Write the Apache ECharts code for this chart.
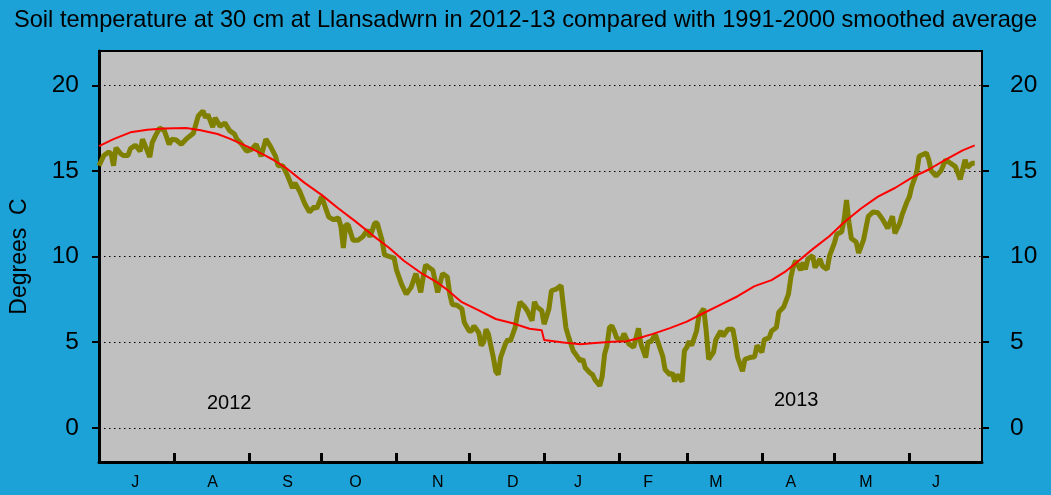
<!DOCTYPE html>
<html>
<head>
<meta charset="utf-8">
<script src="https://cdn.jsdelivr.net/npm/echarts@6/dist/echarts.min.js"></script>
<style>
  html, body { margin: 0; padding: 0; background: #1ca2d6; }
  #chart { width: 1051px; height: 495px; }
</style>
</head>
<body>
<div id="chart"></div>
<script>
// days counted from 1 July 2012
var monthStarts = [0, 31, 62, 92, 123, 153, 184, 215, 243, 274, 304, 335, 365];
var monthLabels = ['J', 'A', 'S', 'O', 'N', 'D', 'J', 'F', 'M', 'A', 'M', 'J'];
// where the original puts each month letter (day number)
var monthLabelDays = [15, 47, 78, 106, 140, 171, 198, 227, 255, 286, 317, 346];
var yTicks = [0, 5, 10, 15, 20];

// 2012-13 daily soil temperature at 30 cm
var obsDays = [0, 2, 4, 5, 6, 7, 9, 10, 12, 13, 15, 17, 18, 21, 22, 23, 25, 27, 29, 30,
  32, 34, 36, 39, 41, 43, 44, 45, 47, 48, 50, 52, 54, 56, 57, 59, 61, 63, 65, 67,
  69, 71, 73, 74, 76, 78, 80, 81, 83, 85, 87, 89, 90, 92, 93, 95, 97, 99, 100, 101,
  102, 103, 105, 107, 109, 111, 112, 114, 115, 117, 118, 120, 122, 123, 125, 127, 129, 131, 133, 134,
  135, 138, 140, 142, 144, 145, 146, 148, 150, 151, 153, 154, 155, 157, 158, 159, 160, 161, 163, 164,
  165, 166, 168, 169, 170, 172, 173, 174, 176, 177, 179, 180, 181, 183, 184, 186, 187, 189, 191, 192,
  193, 194, 196, 197, 199, 200, 201, 203, 204, 205, 207, 208, 209, 210, 211, 212, 213, 214, 216, 217,
  219, 221, 222, 223, 224, 226, 227, 228, 230, 232, 233, 234, 236, 237, 238, 239, 241, 242, 243, 244,
  245, 247, 248, 250, 251, 252, 254, 255, 257, 258, 260, 262, 263, 264, 266, 267, 269, 271, 272, 274,
  275, 277, 278, 280, 281, 283, 285, 286, 287, 288, 290, 291, 292, 293, 295, 296, 298, 299, 301, 302,
  304, 305, 307, 308, 309, 310, 311, 313, 314, 316, 318, 320, 322, 324, 326, 328, 329, 331, 332, 334,
  335, 336, 338, 339, 342, 343, 344, 346, 348, 350, 352, 354, 356, 358, 359, 361, 362];
var obsTemps = [15.3, 15.9, 16.1, 16.0, 15.3, 16.35, 16.0, 15.9, 15.9, 16.3, 16.5, 16.15, 16.85, 15.8, 16.65, 16.95, 17.5, 17.35, 16.55, 16.85,
  16.8, 16.55, 16.85, 17.2, 18.2, 18.5, 18.1, 18.3, 17.55, 18.1, 17.6, 17.8, 17.35, 17.15, 16.85, 16.55, 16.15, 16.25, 16.55, 15.85,
  16.85, 16.4, 15.85, 15.3, 15.3, 14.7, 14.0, 14.3, 13.8, 13.1, 12.6, 12.9, 12.8, 13.5, 13.1, 12.3, 12.15, 12.25, 11.75, 10.5,
  11.85, 11.85, 10.95, 10.95, 11.15, 11.55, 11.15, 11.95, 11.95, 10.95, 10.1, 10.0, 9.9, 9.2, 8.4, 7.8, 8.2, 9.0, 7.9, 8.8,
  9.5, 9.2, 7.9, 9.0, 8.8, 7.8, 7.2, 7.15, 6.95, 6.15, 5.65, 5.65, 5.95, 5.55, 4.8, 5.0, 5.75, 5.45, 4.1, 3.3,
  3.1, 4.1, 4.9, 5.15, 5.05, 5.85, 6.65, 7.35, 7.05, 6.85, 6.25, 7.35, 7.05, 6.85, 6.05, 6.95, 8.0, 8.1, 8.3, 7.05,
  5.85, 5.35, 4.5, 4.3, 3.9, 4.0, 3.5, 3.2, 3.1, 2.8, 2.45, 3.0, 4.3, 4.8, 5.85, 5.95, 5.65, 5.25, 5.1, 5.5,
  4.9, 4.7, 5.25, 5.8, 4.9, 4.1, 5.05, 5.0, 5.45, 4.6, 4.2, 3.4, 3.1, 3.2, 2.7, 3.1, 2.7, 4.5, 4.7, 5.05,
  4.8, 5.65, 6.55, 6.95, 5.65, 4.0, 4.4, 5.15, 5.65, 5.35, 5.75, 5.75, 5.0, 4.1, 3.3, 4.0, 4.1, 4.15, 4.8, 4.4,
  5.15, 5.25, 5.65, 5.85, 6.75, 7.05, 7.8, 8.8, 9.4, 9.75, 9.2, 9.65, 9.25, 9.85, 10.05, 9.35, 9.85, 9.45, 9.25, 10.05,
  10.8, 11.3, 11.45, 12.15, 13.3, 12.0, 11.05, 10.85, 10.2, 10.95, 12.35, 12.6, 12.55, 12.15, 11.65, 12.35, 11.35, 11.95, 12.45, 13.2,
  13.5, 14.1, 14.9, 15.85, 16.05, 15.65, 15.0, 14.7, 15.0, 15.65, 15.45, 15.25, 14.5, 15.65, 15.2, 15.45, 15.45];

// 1991-2000 smoothed average
var avgDays = [0, 6, 13, 20, 27, 36, 42, 49, 54, 61, 68, 72, 78, 85, 92, 99, 106, 113, 120, 126,
  133, 140, 144, 150, 157, 164, 171, 178, 183, 184, 192, 199, 205, 212, 218, 223, 229, 236, 243, 250,
  257, 264, 271, 278, 284, 288, 295, 302, 308, 315, 322, 329, 336, 343, 350, 357, 362];
var avgTemps = [16.45, 16.85, 17.25, 17.4, 17.47, 17.5, 17.37, 17.15, 16.88, 16.45, 15.95, 15.65, 15.1, 14.3, 13.6, 12.8, 12.05, 11.25, 10.5, 9.75,
  9.05, 8.47, 8.05, 7.33, 6.85, 6.35, 6.1, 5.78, 5.7, 5.12, 4.98, 4.88, 4.95, 5.02, 5.05, 5.23, 5.48, 5.82, 6.2, 6.7,
  7.19, 7.68, 8.27, 8.62, 9.15, 9.6, 10.43, 11.2, 12.0, 12.8, 13.5, 14.0, 14.6, 15.08, 15.66, 16.2, 16.49];

function zip(xs, ys) {
  return xs.map(function (x, i) { return [x, ys[i]]; });
}

var font = 'Arial, "Liberation Sans", sans-serif';
var chart = echarts.init(document.getElementById('chart'));

chart.setOption({
  backgroundColor: '#1ca2d6',
  animation: false,
  textStyle: { fontFamily: font, color: '#000' },
  title: {
    text: 'Soil temperature at 30 cm at Llansadwrn in 2012-13 compared with 1991-2000 smoothed average',
    left: 'center',
    top: 3,
    textStyle: { fontFamily: font, fontSize: 23.6, fontWeight: 'normal', color: '#000' }
  },
  grid: {
    left: 97, right: 69, top: 51, bottom: 33,
    show: true,
    backgroundColor: '#c0c0c0',
    borderColor: '#000',
    borderWidth: 2
  },
  graphic: [
    { type: 'text', left: 207, top: 393, style: { text: '2012', font: '20px ' + font, fill: '#000' } },
    { type: 'text', left: 774, top: 390, style: { text: '2013', font: '20px ' + font, fill: '#000' } }
  ],
  xAxis: {
    type: 'value',
    min: 0,
    max: 365,
    axisLine: { onZero: false, lineStyle: { color: '#000', width: 3 } },
    axisTick: {
      inside: true,
      length: 9,
      customValues: monthStarts.slice(1, -1),
      lineStyle: { color: '#000', width: 3 }
    },
    axisLabel: {
      customValues: monthLabelDays,
      margin: 13,
      fontSize: 16,
      color: '#000',
      formatter: function (v) {
        var i = monthLabelDays.indexOf(v);
        return i >= 0 ? monthLabels[i] : '';
      }
    },
    splitLine: { show: false }
  },
  yAxis: [
    {
      type: 'value',
      position: 'left',
      min: -2,
      max: 22,
      name: 'Degrees  C',
      nameLocation: 'middle',
      nameGap: 68,
      nameTextStyle: { fontSize: 23, color: '#000', fontFamily: font },
      axisLine: { show: true, lineStyle: { color: '#000', width: 3 } },
      axisTick: { length: 7, customValues: yTicks, lineStyle: { color: '#000', width: 2 } },
      axisLabel: { customValues: yTicks, margin: 20, fontSize: 24.5, color: '#000' },
      splitLine: { show: true, lineStyle: { color: '#000', width: 1.2, type: [1.5, 3.5] } }
    },
    {
      type: 'value',
      position: 'right',
      min: -2,
      max: 22,
      axisLine: { show: true, lineStyle: { color: '#000', width: 2 } },
      axisTick: { length: 7, customValues: yTicks, lineStyle: { color: '#000', width: 2 } },
      axisLabel: { customValues: yTicks, margin: 28, align: 'left', fontSize: 24.5, color: '#000' },
      splitLine: { show: false }
    }
  ],
  series: [
    {
      name: '2012-13',
      type: 'line',
      data: zip(obsDays, obsTemps),
      showSymbol: false,
      lineStyle: { color: '#808000', width: 5 },
      z: 2
    },
    {
      name: '1991-2000 smoothed average',
      type: 'line',
      data: zip(avgDays, avgTemps),
      showSymbol: false,
      lineStyle: { color: '#ff0000', width: 2 },
      z: 3
    }
  ]
});
</script>
</body>
</html>
